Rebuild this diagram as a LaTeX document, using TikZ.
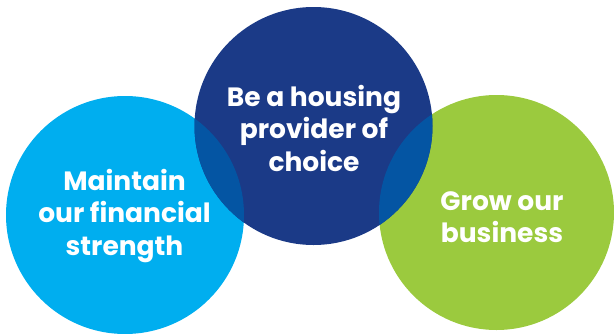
\documentclass[tikz,border=0pt]{standalone}
\usepackage{fontspec}
\setmainfont{Poppins}
\definecolor{cyanc}{HTML}{00AEEF}
\definecolor{navyc}{HTML}{1B3A87}
\definecolor{greenc}{HTML}{9BCA3E}
\definecolor{mixc}{HTML}{0455A3}
\begin{document}
\begin{tikzpicture}[x=1pt,y=-1pt,
  lbl/.style={text=white,font=\bfseries\fontsize{26.5}{32.5}\selectfont,align=center}]
\useasboundingbox (0,0) rectangle (614,333);
\coordinate (cl) at (125,215);
\coordinate (cm) at (313.5,126);
\coordinate (cr) at (496.5,212.5);
\fill[cyanc] (cl) circle (119);
\fill[greenc] (cr) circle (117.5);
\fill[navyc] (cm) circle (119);
\begin{scope}
  \clip (cl) circle (119);
  \fill[mixc] (cm) circle (119);
\end{scope}
\begin{scope}
  \clip (cr) circle (117.5);
  \fill[mixc] (cm) circle (119);
\end{scope}
\node[lbl] (tl) at (124.5,216) {Maintain\\our financial\\strength};
\node[lbl] (tm) at (314,128) {Be a housing\\provider of\\choice};
\node[lbl] (tr) at (502,217) {Grow our\\business};
\end{tikzpicture}
\end{document}
